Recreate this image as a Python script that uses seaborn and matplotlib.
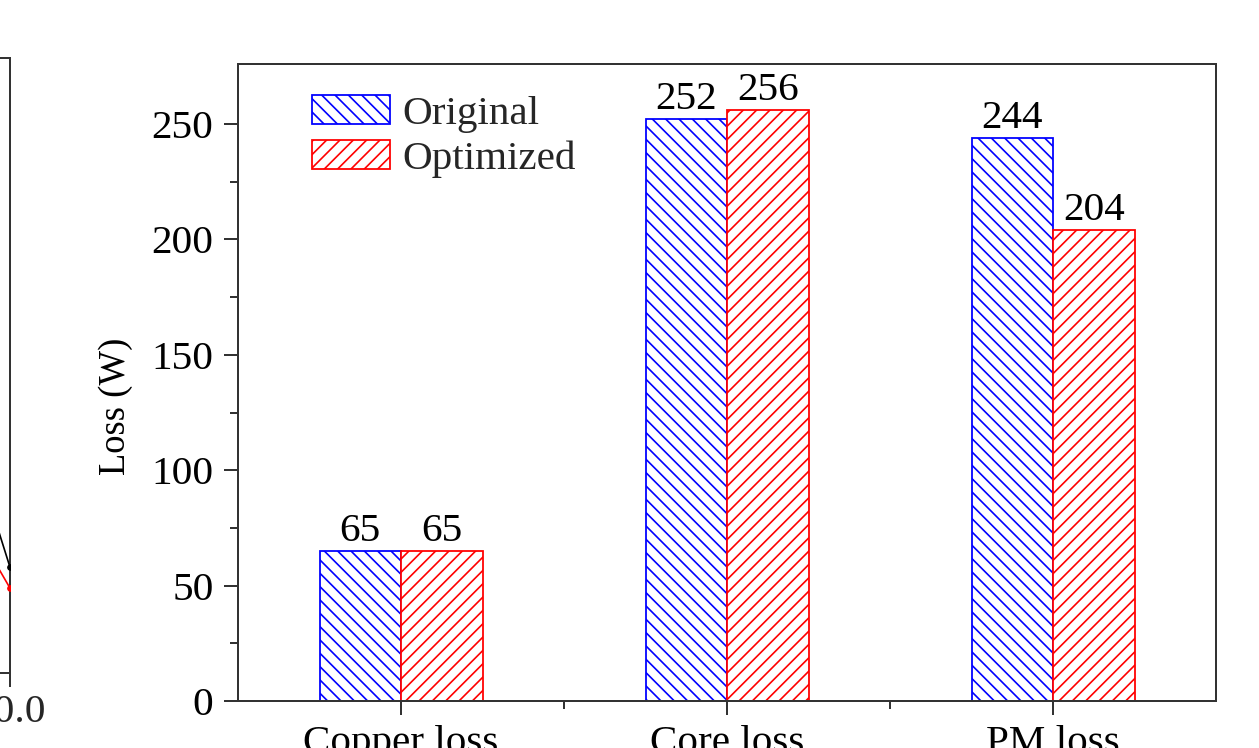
import numpy as np
import pandas as pd
import matplotlib
matplotlib.use("Agg")
import matplotlib.pyplot as plt
from matplotlib.ticker import FormatStrFormatter
import seaborn as sns

# Loss breakdown of the two machine designs (W)
categories = ["Copper loss", "Core loss", "PM loss"]
original = [65, 252, 244]
optimized = [65, 256, 204]
series_names = ["Original", "Optimized"]
y_ticks = [0, 50, 100, 150, 200, 250]
y_minor_ticks = [25, 75, 125, 175, 225]

# Tail of the neighbouring panel's two curves
side_x = [9.0, 10.0]
side_black = [0.47, 0.172]
side_red = [0.30, 0.138]

df = pd.DataFrame({
    "category": categories * 2,
    "loss": original + optimized,
    "design": [series_names[0]] * len(categories) + [series_names[1]] * len(categories),
})

DPI = 80
W, H = 1259, 748
sns.set_theme(style="ticks")
plt.rcParams["font.family"] = ["Liberation Serif", "DejaVu Serif"]
plt.rcParams["hatch.linewidth"] = 1.5
plt.rcParams["axes.unicode_minus"] = False

colors = ["#0000ff", "#ff0000"]
hatches = ["\\\\", "//"]
spine_color = "#333333"
FS = 37

fig = plt.figure(figsize=(W / DPI, H / DPI), dpi=DPI, facecolor="white")

# ---- neighbouring panel (only its right edge falls inside the figure)
ax2 = fig.add_axes([-0.45, 75 / H, 0.45 + 10 / W, 615 / H])
ax2.plot(side_x, side_black, color="black", lw=1.5, marker="o", ms=5, zorder=3)
ax2.plot(side_x, side_red, color="red", lw=1.5, marker="o", ms=5, zorder=3)
ax2.set_xlim(0, 10)
ax2.set_ylim(0, 1)
ax2.set_xticks([10.0])
ax2.xaxis.set_major_formatter(FormatStrFormatter("%.1f"))
ax2.set_yticks([])
ax2.tick_params(axis="x", direction="out", length=13, width=1.8, color=spine_color,
                labelsize=FS, pad=6)
for s in ax2.spines.values():
    s.set_color(spine_color)
    s.set_linewidth(1.8)
ax2.set_facecolor("white")

# ---- main bar chart
ax = fig.add_axes([238 / W, (H - 701) / H, 978 / W, 637 / H])
sns.barplot(data=df, x="category", y="loss", hue="design", hue_order=series_names,
            palette=colors, width=0.5, saturation=1, ax=ax, legend=False,
            errorbar=None)

for cont, col, hat in zip(ax.containers, colors, hatches):
    for p in cont.patches:
        p.set_facecolor("white")
        p.set_edgecolor(col)
        p.set_hatch(hat)
        p.set_linewidth(1.6)
    ax.bar_label(cont, fmt="%g", padding=1, fontsize=FS, color="black")

ax.set_xlim(-0.5, 2.5)
ax.set_ylim(0, 276)
ax.set_yticks(y_ticks)
ax.set_yticks(y_minor_ticks, minor=True)
ax.set_xticks([0.5, 1.5], minor=True)
ax.tick_params(axis="both", which="major", direction="out", length=13, width=1.8,
               color=spine_color, labelsize=FS, labelcolor="black")
ax.tick_params(axis="y", which="major", pad=9)
ax.tick_params(axis="x", which="major", pad=9)
ax.tick_params(axis="both", which="minor", direction="out", length=7, width=1.8,
               color=spine_color)
ax.set_xlabel("")
ax.set_ylabel("Loss (W)", fontsize=33, color="black")
ax.yaxis.set_label_coords(-0.107, 0.463)
for s in ax.spines.values():
    s.set_visible(True)
    s.set_color(spine_color)
    s.set_linewidth(1.8)

ax.legend(handles=list(ax.containers), labels=series_names, loc="upper left",
          bbox_to_anchor=(74 / 978, 1 - 31 / 637), frameon=False, fontsize=FS,
          handlelength=1.9, handleheight=0.7, handletextpad=0.3, labelspacing=0.17,
          borderpad=0, borderaxespad=0)

fig.savefig("out.png", dpi=DPI, facecolor="white")
